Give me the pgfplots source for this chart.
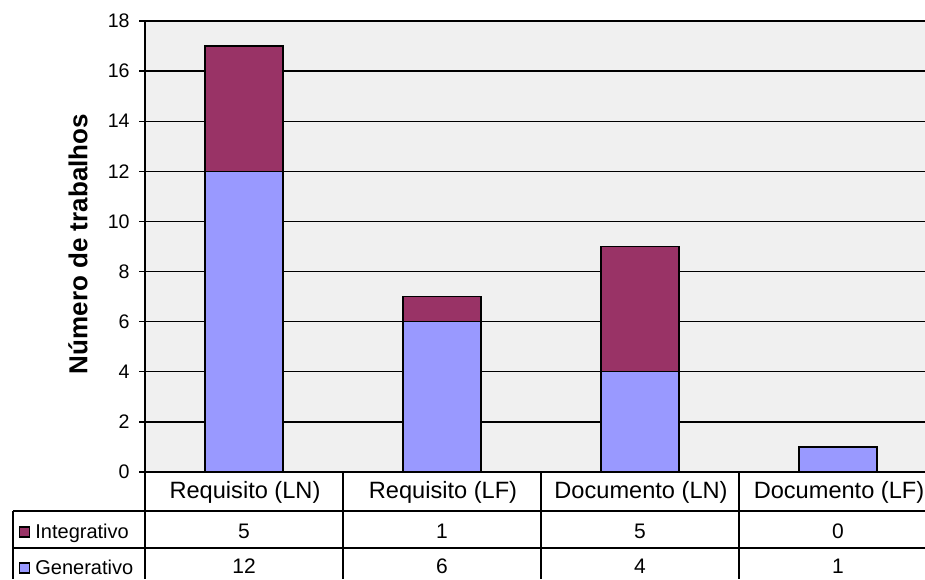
\documentclass[border=0pt]{standalone}
\usepackage{pgfplots}
\pgfplotsset{compat=1.18}
\usepackage{fontspec}
\setmainfont{Liberation Sans}
\definecolor{gen}{HTML}{9999FF}
\definecolor{integ}{HTML}{993366}
\definecolor{plotbg}{HTML}{F0F0F0}
\begin{document}
\begin{tikzpicture}
\useasboundingbox (0,0) rectangle (462.5pt,289.5pt);
\clip (0,0) rectangle (462.5pt,289.5pt);
\begin{axis}[
  at={(72.5pt,53.5pt)}, anchor=south west,
  scale only axis, width=396pt, height=225.5pt,
  xmin=-0.5, xmax=3.5, ymin=0, ymax=18,
  ybar stacked, bar width=39pt,
  axis background/.style={fill=plotbg},
  axis line style={black, line width=0.7pt},
  ytick={0,2,...,18}, xtick=\empty,
  ymajorgrids, grid style={black, line width=0.65pt},
  ytick align=outside, major tick length=3pt, tick style={black, line width=0.65pt},
  /pgf/number format/assume math mode=true,
  yticklabel style={font=\fontsize{9.8}{10}\selectfont, anchor=east, inner sep=0pt, xshift=-4.5pt},
  clip=false,
]
\addplot[fill=gen, draw=black, line width=0.6pt] coordinates {(0,12) (1,6) (2,4) (3,1)};
\addplot[fill=integ, draw=black, line width=0.6pt] coordinates {(0,5) (1,1) (2,5) (3,0)};
\end{axis}
% y label
\node[rotate=90, font=\fontsize{13}{14}\selectfont\bfseries] at (39pt,167.5pt) {Número de trabalhos};
% table lines
\begin{scope}[line width=0.7pt]
\draw (72.5pt,53.5pt) -- (72.5pt,0pt);
\draw (171.5pt,53.5pt) -- (171.5pt,0pt);
\draw (270.5pt,53.5pt) -- (270.5pt,0pt);
\draw (369.5pt,53.5pt) -- (369.5pt,0pt);
\draw (6.5pt,34pt) -- (470pt,34pt);
\draw (6.5pt,15.5pt) -- (470pt,15.5pt);
\draw (6.5pt,34pt) -- (6.5pt,0pt);
\end{scope}
% header
\begin{scope}[font=\fontsize{11.8}{12}\selectfont]
\node[anchor=base] at (122.5pt,40.5pt) {Requisito (LN)};
\node[anchor=base] at (221.5pt,40.5pt) {Requisito (LF)};
\node[anchor=base] at (320.5pt,40.5pt) {Documento (LN)};
\node[anchor=base] at (419.5pt,40.5pt) {Documento (LF)};
\end{scope}
% legend column
\draw[fill=integ, line width=0.6pt] (9.75pt,21pt) rectangle (14.75pt,26pt);
\draw[fill=gen, line width=0.6pt] (9.75pt,3pt) rectangle (14.75pt,8pt);
\begin{scope}[font=\fontsize{10}{11}\selectfont]
\node[anchor=base west, inner sep=0pt] at (17.5pt,20.5pt) {Integrativo};
\node[anchor=base west, inner sep=0pt] at (17.5pt,2.5pt) {Generativo};
\end{scope}
% values
\begin{scope}[font=\fontsize{10.5}{11}\selectfont]
\node[anchor=base] at (122pt,20.5pt) {5};
\node[anchor=base] at (221pt,20.5pt) {1};
\node[anchor=base] at (320pt,20.5pt) {5};
\node[anchor=base] at (419pt,20.5pt) {0};
\node[anchor=base] at (122pt,3pt) {12};
\node[anchor=base] at (221pt,3pt) {6};
\node[anchor=base] at (320pt,3pt) {4};
\node[anchor=base] at (419pt,3pt) {1};
\end{scope}
\end{tikzpicture}
\end{document}
